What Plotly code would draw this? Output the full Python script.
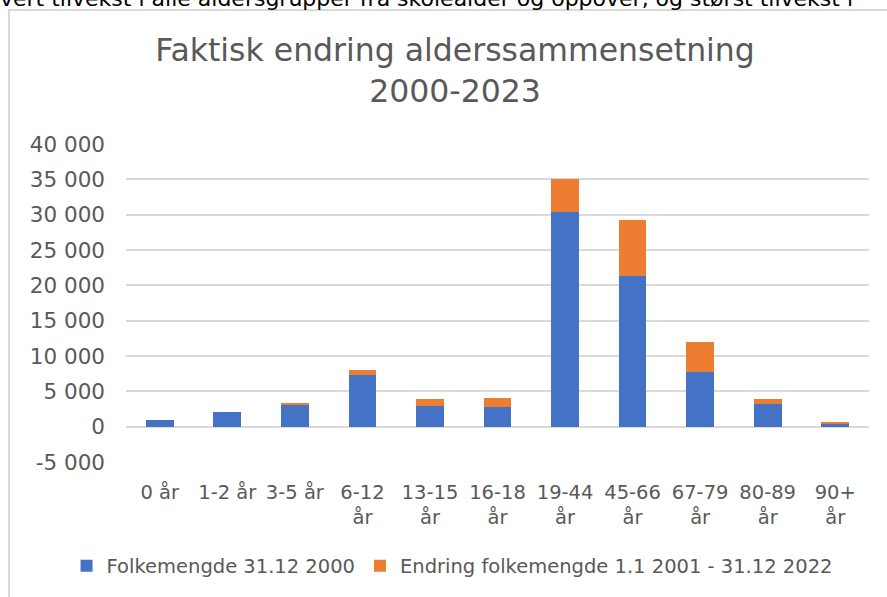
import plotly.graph_objects as go

categories = ["0 år", "1-2 år", "3-5 år", "6-12<br>år", "13-15<br>år", "16-18<br>år",
              "19-44<br>år", "45-66<br>år", "67-79<br>år", "80-89<br>år", "90+<br>år"]
pop_2000 = [1000, 2100, 3100, 7300, 2950, 2750, 30400, 21300, 7700, 3150, 450]
change_2001_2022 = [0, 0, 200, 700, 900, 1280, 4700, 7900, 4350, 700, 230]
y_ticks = [-5000, 0, 5000, 10000, 15000, 20000, 25000, 30000, 35000, 40000]
y_tick_labels = ["-5 000", "0", "5 000", "10 000", "15 000", "20 000", "25 000",
                 "30 000", "35 000", "40 000"]

FONT = "DejaVu Sans"
GREY = "#595959"

fig = go.Figure()
fig.add_trace(go.Bar(x=categories, y=pop_2000, name="Folkemengde 31.12 2000",
                     marker=dict(color="#4472C4", line=dict(width=0))))
fig.add_trace(go.Bar(x=categories, y=change_2001_2022,
                     name="Endring folkemengde 1.1 2001 - 31.12 2022",
                     marker=dict(color="#ED7D31", line=dict(width=0))))

fig.update_layout(
    width=887, height=597,
    barmode="stack", bargap=0.59,
    paper_bgcolor="white", plot_bgcolor="white",
    margin=dict(l=126, r=18, t=144, b=135, autoexpand=False),
    font=dict(family=FONT, color=GREY, size=19),
    title=dict(text="Faktisk endring alderssammensetning<br>2000-2023",
               x=0.513, xanchor="center", y=0.897, yanchor="middle",
               font=dict(size=31.5, color=GREY, family=FONT)),
    xaxis=dict(showgrid=False, showline=False, ticks="", tickangle=0,
               ticklabelstandoff=16,
               tickfont=dict(size=19.5, color=GREY)),
    yaxis=dict(range=[-5000, 40000], tickvals=y_ticks, ticktext=y_tick_labels,
               showgrid=True, gridcolor="#d9d9d9", gridwidth=1.5,
               zeroline=True, zerolinecolor="#d9d9d9", zerolinewidth=1.5,
               showline=False, ticks="", ticklabelstandoff=20,
               tickfont=dict(size=21.5, color=GREY)),
    legend=dict(orientation="h", x=-0.08, xanchor="left",
                y=-0.327, yanchor="middle",
                font=dict(size=19.5, color=GREY), traceorder="normal",
                itemwidth=30),
    shapes=[dict(type="rect", xref="paper", yref="paper", x0=-0.1575, x1=1.1,
                 y0=-0.5, y1=1.421, line=dict(color="#d9d9d9", width=2),
                 fillcolor="rgba(0,0,0,0)", layer="below")],
    annotations=[dict(text="vert tilvekst i alle aldersgrupper fra skolealder og oppover, og størst tilvekst i",
                      xref="paper", yref="paper", x=-0.172, xanchor="left",
                      y=1.412, yanchor="bottom", showarrow=False,
                      font=dict(size=22, color="black", family=FONT))],
)

fig.write_html("out.html", config={"displayModeBar": False},
               post_script="document.body.style.margin='0';")
